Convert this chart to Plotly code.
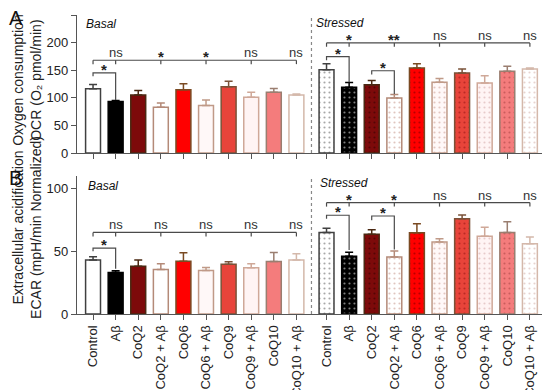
import plotly.graph_objects as go

# ---------------- data ----------------
categories = ["Control", "Aβ", "CoQ2", "CoQ2 + Aβ", "CoQ6", "CoQ6 + Aβ",
              "CoQ9", "CoQ9 + Aβ", "CoQ10", "CoQ10 + Aβ"]

ocr_basal = [116.5, 93.5, 105, 83, 114.5, 86, 120, 101, 110, 105]
ocr_basal_err = [7.5, 1.5, 8, 7.5, 11, 10, 10, 9, 7, 2]
ocr_stressed = [151, 119, 123.5, 99.5, 154, 128, 145, 127, 148, 152]
ocr_stressed_err = [10.5, 8.5, 8, 6.5, 7.5, 7, 7, 13, 9, 2]

ecar_basal = [43, 33, 38, 35.5, 42, 34.6, 39.7, 36.8, 41.8, 43]
ecar_basal_err = [2.6, 1.4, 5, 4.6, 6.8, 2.5, 1.9, 3.2, 7.2, 5]
ecar_stressed = [65, 46, 63.5, 45.5, 64.8, 57.3, 76, 62, 65, 56]
ecar_stressed_err = [3.4, 3.2, 3.7, 4.8, 7.2, 2.7, 2.9, 7.2, 8.5, 5.3]

# significance: long line (level, labels); small brackets (a, b, level, left end, right end, label)
ocr_sig = {
    "basal_long": (168, ["ns", "*", "*", "ns", "ns"]),
    "stressed_long": (199.5, ["*", "**", "ns", "ns", "ns"]),
    "basal_small": [(0, 1, 145, 139, 96, "*")],
    "stressed_small": [(0, 1, 174.5, 168, 128, "*"), (2, 3, 149, 142, 107, "*")],
}
ecar_sig = {
    "basal_long": (65, ["ns", "ns", "ns", "ns", "ns"]),
    "stressed_long": (88.8, ["*", "*", "ns", "ns", "ns"]),
    "basal_small": [(0, 1, 52.5, 50, 36, "*")],
    "stressed_small": [(0, 1, 78.7, 76, 51, "*"), (2, 3, 78.1, 74.7, 51.5, "*")],
}

# ---------------- styles ----------------
fills = ["#ffffff", "#000000", "#7d0a0a", "#ffffff", "#ff0000",
         "#fff8f8", "#e8443a", "#fff4f4", "#f47c7c", "#ffffff"]
lines = ["#404040", "#000000", "#4a2812", "#b48a78", "#7a4a22",
         "#c09a88", "#7a5238", "#cfa898", "#9a7e70", "#d4b8aa"]
dots = ["#505050", "#ffffff", "#2a0000", "#c08c80", "#700000",
        "#c89488", "#8a1010", "#d0a0a0", "#a03c3c", "#d0a8a0"]

GAP = 1.333
pos_basal = list(range(10))
pos_stressed = [10 + (GAP - 1) + i for i in range(10)]
XR = [-0.71, 20.09]

fig = go.Figure()


def add_bars(vals, errs, xs, stressed, xa, ya):
    for i in range(10):
        pattern = dict(shape=".", fillmode="overlay", fgcolor=dots[i],
                       size=5, solidity=0.15) if stressed else dict(shape="")
        fig.add_trace(go.Bar(
            x=[xs[i]], y=[vals[i]], width=0.66,
            marker=dict(color=fills[i], line=dict(color=lines[i], width=1.5),
                        pattern=pattern),
            error_y=dict(type="data", array=[errs[i]], arrayminus=[0],
                         symmetric=False, color=lines[i],
                         thickness=1.5, width=4),
            xaxis=xa, yaxis=ya, showlegend=False, hoverinfo="skip"))


add_bars(ocr_basal, ocr_basal_err, pos_basal, False, "x", "y")
add_bars(ocr_stressed, ocr_stressed_err, pos_stressed, True, "x", "y")
add_bars(ecar_basal, ecar_basal_err, pos_basal, False, "x2", "y2")
add_bars(ecar_stressed, ecar_stressed_err, pos_stressed, True, "x2", "y2")

shapes = []
annotations = []
SIGC = "#4a4a4a"
STAR = dict(size=15, color="#222")
NS = dict(size=13, color="#333")


def add_sig(sig, xref, yref, tick):
    for key, xs in (("basal", pos_basal), ("stressed", pos_stressed)):
        lvl, labs = sig[key + "_long"]
        shapes.append(dict(type="line", xref=xref, yref=yref, x0=xs[0], x1=xs[9],
                           y0=lvl, y1=lvl, line=dict(color=SIGC, width=1.2)))
        shapes.append(dict(type="line", xref=xref, yref=yref, x0=xs[0], x1=xs[0],
                           y0=lvl, y1=lvl - tick, line=dict(color=SIGC, width=1.2)))
        for k, lab in enumerate(labs):
            xp = xs[2 * k + 1]
            star = "*" in lab
            shapes.append(dict(type="line", xref=xref, yref=yref, x0=xp, x1=xp,
                               y0=lvl, y1=lvl - tick, line=dict(color=SIGC, width=1.2)))
            annotations.append(dict(x=xp, y=lvl, xref=xref, yref=yref,
                                    text=f"<b>{lab}</b>" if star else lab,
                                    showarrow=False, xanchor="center", yanchor="bottom",
                                    yshift=-7 if star else -2,
                                    font=STAR if star else NS))
        for (a, b, lvl2, le, re, lab) in sig[key + "_small"]:
            shapes.append(dict(type="path", xref=xref, yref=yref,
                               path=f"M {xs[a]},{le} L {xs[a]},{lvl2} L {xs[b]},{lvl2} L {xs[b]},{re}",
                               line=dict(color=SIGC, width=1.2)))
            annotations.append(dict(x=(xs[a] + xs[b]) / 2, y=lvl2, xref=xref, yref=yref,
                                    text=f"<b>{lab}</b>", showarrow=False, xanchor="center",
                                    yanchor="bottom", yshift=-7, font=STAR))


add_sig(ocr_sig, "x", "y", 7)
add_sig(ecar_sig, "x2", "y2", 3.2)

# dotted dividers
divx = (pos_basal[-1] + pos_stressed[0]) / 2
shapes.append(dict(type="line", xref="x", yref="y", x0=divx, x1=divx, y0=0, y1=250,
                   line=dict(color="#888", width=1.2, dash="dot")))
shapes.append(dict(type="line", xref="x2", yref="y2", x0=divx, x1=divx, y0=0, y1=110,
                   line=dict(color="#888", width=1.2, dash="dot")))

# layout geometry: page has an 8px body margin, so the figure is 8px smaller
OFF = 8
W, H = 550 - OFF, 390 - OFF
L, R, T, B = 77 - OFF, 3, 15 - OFF, 76
PW, PH = W - L - R, H - T - B


def px(xp):  # page pixel -> paper x
    return (xp - OFF - L) / PW


def py(yp):  # page pixel -> paper y
    return (H - B - (yp - OFF)) / PH


txt = dict(showarrow=False, xref="paper", yref="paper", xanchor="center", yanchor="middle")
annotations += [
    dict(x=px(16), y=py(18), text="A", font=dict(size=20, color="#111"), **txt),
    dict(x=px(15), y=py(178), text="B", font=dict(size=20, color="#111"), **txt),
]
txt_l = dict(showarrow=False, xref="paper", yref="paper", xanchor="left", yanchor="middle")
annotations += [
    dict(x=px(84), y=py(24), text="<i>Basal</i>", font=dict(size=12, color="#111"), **txt_l),
    dict(x=px(314), y=py(23), text="<i>Stressed</i>", font=dict(size=12, color="#111"), **txt_l),
    dict(x=px(86), y=py(186), text="<i>Basal</i>", font=dict(size=12, color="#111"), **txt_l),
    dict(x=px(318), y=py(183), text="<i>Stressed</i>", font=dict(size=12, color="#111"), **txt_l),
]

axis_common = dict(showline=True, linecolor="#555", linewidth=1.3, ticks="outside",
                   ticklen=5, tickcolor="#555", showgrid=False, zeroline=False)
all_pos = pos_basal + pos_stressed
PAD = "&nbsp;" * 9   # lifts the lower title a little above its panel's centre
PADA = "&nbsp;" * 2

fig.update_layout(
    width=W, height=H, barmode="overlay",
    margin=dict(l=L, r=R, t=T, b=B),
    paper_bgcolor="white", plot_bgcolor="white",
    font=dict(family="Liberation Sans, Arial, sans-serif", color="#222"),
    xaxis=dict(domain=[0, 1], anchor="y", range=XR, tickvals=all_pos,
               showticklabels=False, **axis_common),
    yaxis=dict(domain=[py(153), 1.0], anchor="x", range=[0, 250],
               tickvals=[0, 50, 100, 150, 200, 250], tickfont=dict(size=13),
               title=dict(text=PADA + "Oxygen consumption<br>" + PADA + "OCR (O₂ pmol/min)",
                          font=dict(size=14, color="#222"), standoff=1),
               automargin=False, **axis_common),
    xaxis2=dict(domain=[0, 1], anchor="y2", range=XR, tickvals=all_pos,
                ticktext=categories + categories, tickangle=-90,
                tickfont=dict(size=13), automargin=False, **axis_common),
    yaxis2=dict(domain=[0, py(176)], anchor="x2", range=[0, 110],
                tickvals=[0, 50, 100], tickfont=dict(size=13),
                title=dict(text=PAD + "Extracellular acidification<br>" + PAD +
                           "ECAR (mpH/min Normalized)",
                           font=dict(size=14, color="#222"), standoff=1),
                automargin=False, **axis_common),
    shapes=shapes, annotations=annotations,
)

fig.write_html("out.html")
